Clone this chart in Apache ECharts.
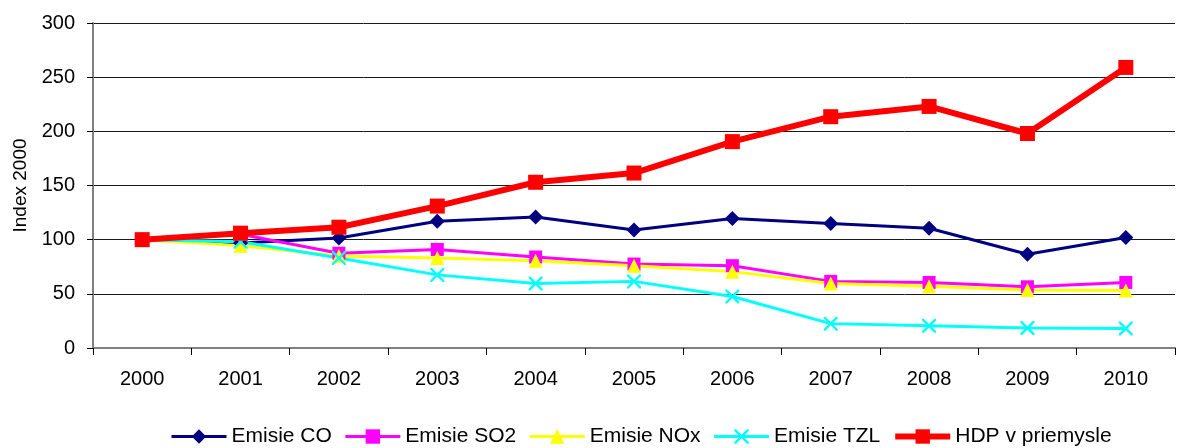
<!DOCTYPE html>
<html>
<head>
<meta charset="utf-8">
<script src="https://cdn.jsdelivr.net/npm/echarts@6/dist/echarts.min.js"></script>
<style>
  html, body { margin: 0; padding: 0; background: #fff; }
  #chart { width: 1183px; height: 448px; }
</style>
</head>
<body>
<div id="chart"></div>
<script>
// Years on the category axis
const years = ['2000', '2001', '2002', '2003', '2004', '2005', '2006', '2007', '2008', '2009', '2010'];

// Index values (2000 = 100)
const emisieCO  = [100, 97, 101.5, 117, 121, 109, 119.5, 115, 110.5, 86.5, 102];
const emisieSO2 = [100, 105, 87.5, 91, 84, 77.5, 76, 61.5, 60.5, 56.5, 60.5];
const emisieNOx = [100, 94.5, 85, 83, 80.5, 76, 70.5, 59.5, 57, 53.5, 53];
const emisieTZL = [100, 98, 83, 67.5, 59.5, 61.5, 47.5, 22.5, 20.5, 18.5, 18];
const hdpPriemysle = [100, 106, 111.5, 131, 153, 161.5, 190.5, 213.5, 223, 198, 259];

const yTicks = [0, 50, 100, 150, 200, 250, 300];

const seriesNames = ['Emisie CO', 'Emisie SO2', 'Emisie NOx', 'Emisie TZL', 'HDP v priemysle'];
const seriesColors = ['#000080', '#ff00ff', '#ffff00', '#00ffff', '#ff0000'];
const lineWidths = [3, 3, 3, 3, 6];

const FONT = '"Liberation Sans", Arial, sans-serif';
const crossPath = 'path://M0,0 L2.4,0 L10,7.6 L17.6,0 L20,0 L20,2.4 L12.4,10 L20,17.6 L20,20 L17.6,20 L10,12.4 L2.4,20 L0,20 L0,17.6 L7.6,10 L0,2.4 Z';
const symbols = ['diamond', 'rect', 'triangle', crossPath, 'rect'];
const symbolSizes = [15, 13, 14, 14, 15];

function lineSeries(i, data) {
  return {
    name: seriesNames[i],
    type: 'line',
    data: data,
    symbol: symbols[i],
    symbolSize: symbolSizes[i],
    showAllSymbol: true,
    lineStyle: { color: seriesColors[i], width: lineWidths[i] },
    itemStyle: { color: seriesColors[i] },
    emphasis: { disabled: true },
    animation: false
  };
}

const chart = echarts.init(document.getElementById('chart'), null, { renderer: 'canvas' });
chart.setOption({
  backgroundColor: '#ffffff',
  animation: false,
  grid: { left: 93, right: 8, top: 23, bottom: 100, containLabel: false },
  legend: {
    bottom: -4,
    left: 165,
    itemWidth: 55,
    itemHeight: 18,
    itemGap: 12,
    textStyle: { fontFamily: FONT, fontSize: 21, color: '#000' },
    data: seriesNames.map((name, i) => ({
      name: name,
      lineStyle: { width: lineWidths[i], color: seriesColors[i] }
    }))
  },
  xAxis: {
    type: 'category',
    data: years,
    boundaryGap: true,
    axisLine: { lineStyle: { color: '#808080', width: 2 } },
    axisTick: { show: true, length: 7, lineStyle: { color: '#000', width: 1 } },
    axisLabel: { fontFamily: FONT, fontSize: 20, color: '#000', margin: 21 },
    splitLine: { show: false }
  },
  yAxis: {
    type: 'value',
    min: yTicks[0],
    max: yTicks[yTicks.length - 1],
    interval: 50,
    name: 'Index 2000',
    nameLocation: 'middle',
    nameGap: 63,
    nameRotate: 90,
    nameTextStyle: { fontFamily: FONT, fontSize: 19, color: '#000' },
    axisLine: { show: true, lineStyle: { color: '#808080', width: 2 } },
    axisTick: { show: true, length: 6, lineStyle: { color: '#000' } },
    axisLabel: { fontFamily: FONT, fontSize: 20, color: '#000', margin: 18 },
    splitLine: { show: true, lineStyle: { color: '#1a1a1a', width: 1 } }
  },
  series: [
    lineSeries(0, emisieCO),
    lineSeries(1, emisieSO2),
    lineSeries(2, emisieNOx),
    lineSeries(3, emisieTZL),
    lineSeries(4, hdpPriemysle)
  ]
});
</script>
</body>
</html>
